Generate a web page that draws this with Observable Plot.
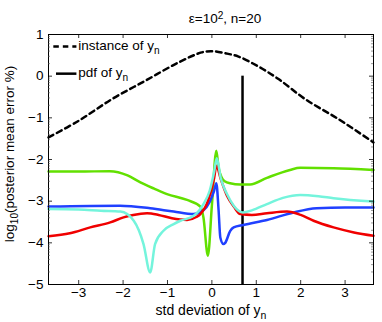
<!DOCTYPE html>
<html>
<head>
<meta charset="utf-8">
<script src="https://cdn.jsdelivr.net/npm/d3@7"></script>
<script src="https://cdn.jsdelivr.net/npm/@observablehq/plot@0.6"></script>
<style>
html, body { margin: 0; padding: 0; background: #fff; }
</style>
</head>
<body>
<div id="chart"></div>
<script>
// ---- data ----
const titleText = "ε=10^{2}, n=20";
const xLabelText = "std deviation of y_{n}";
const yLabelText = "log_{10}(posterior mean error %)";
const legendLabels = ["instance of y_{n}", "pdf of y_{n}"];
const xTicks = [-3, -2, -1, 0, 1, 2, 3];
const yTicks = [-5, -4, -3, -2, -1, 0, 1];

const instanceX = [-3.68, -3.0, -2.25, -1.5, -0.75, -0.23, 0.0, 0.3, 0.6, 1.05, 1.5, 2.1, 2.85, 3.64];
const instanceY = [-1.47, -1.07, -0.55, -0.11, 0.33, 0.57, 0.6, 0.55, 0.47, 0.23, -0.07, -0.55, -1.03, -1.59];

const pdfX = 0.69;
const pdfTop = 0;

const greenX = [-3.68, -3.0, -2.3, -1.9, -1.61, -1.3, -1.01, -0.56, -0.26, -0.19, -0.09, 0.0, 0.1, 0.15, 0.22, 0.3, 0.41, 0.64, 0.86, 1.24, 1.76, 1.99, 2.74, 3.64];
const greenY = [-2.29, -2.29, -2.28, -2.38, -2.55, -2.7, -2.83, -2.97, -3.13, -3.39, -4.31, -3.1, -1.79, -2.19, -2.43, -2.53, -2.57, -2.6, -2.6, -2.44, -2.25, -2.2, -2.21, -2.25];

const blueX = [-3.68, -2.07, -1.39, -0.86, -0.41, -0.19, -0.05, 0.05, 0.1, 0.15, 0.19, 0.26, 0.3, 0.41, 0.49, 0.71, 1.24, 1.84, 2.36, 3.0, 3.64];
const blueY = [-3.13, -3.11, -3.17, -3.25, -3.31, -3.22, -3.02, -2.75, -2.57, -3.2, -3.87, -4.03, -4.0, -3.72, -3.63, -3.57, -3.45, -3.27, -3.17, -3.15, -3.15];

const redX = [-3.68, -3.2, -2.74, -2.29, -1.99, -1.77, -1.46, -1.2, -0.9, -0.56, -0.35, -0.26, -0.08, 0.05, 0.1, 0.2, 0.34, 0.5, 0.64, 0.9, 1.24, 1.69, 2.0, 2.29, 2.74, 3.2, 3.64];
const redY = [-3.84, -3.77, -3.63, -3.51, -3.39, -3.33, -3.29, -3.33, -3.41, -3.45, -3.38, -3.31, -2.97, -2.45, -2.15, -2.47, -2.87, -3.14, -3.31, -3.33, -3.29, -3.25, -3.33, -3.47, -3.63, -3.75, -3.83];

const cyanX = [-3.68, -3.0, -2.5, -2.06, -1.76, -1.54, -1.39, -1.28, -1.09, -0.86, -0.71, -0.41, -0.19, -0.05, 0.05, 0.11, 0.2, 0.34, 0.5, 0.7, 0.9, 1.24, 1.6, 1.99, 2.4, 2.74, 3.64];
const cyanY = [-3.19, -3.2, -3.23, -3.25, -3.47, -4.03, -4.71, -4.03, -3.71, -3.55, -3.47, -3.35, -3.07, -2.75, -2.3, -1.97, -2.45, -2.83, -3.12, -3.27, -3.22, -3.07, -2.92, -2.85, -2.88, -2.93, -3.01];

// ---- layout ----
const W = 382, H = 322;
const mT = 34, mB = 38, mL = 48, mR = 9;
const innerW = W - mL - mR, innerH = H - mT - mB;
const xDomain = [-3.68, 3.64], yDomain = [-5, 1];
const font = "'Liberation Sans', Arial, Helvetica, sans-serif";
const fs = 13.5;

const zip = (xs, ys) => xs.map((x, i) => ({x, y: ys[i]}));
const fmt = d => (d < 0 ? "\u2212" : "") + Math.abs(d);

// minor (log-style) ticks on the y axis
const yMinor = [];
for (let n = -4; n <= 1; n++) for (let k = 2; k <= 9; k++) yMinor.push(n - 1 + Math.log10(k));

// legend placement (data units, derived from domains)
const legX1 = xDomain[0] + 0.12, legX2 = xDomain[0] + 0.64, legTX = xDomain[0] + 0.67;
const legY = [0.71, 0.06];

const chart = Plot.plot({
  width: W, height: H,
  marginTop: mT, marginBottom: mB, marginLeft: mL, marginRight: mR,
  x: {domain: xDomain},
  y: {domain: yDomain},
  style: {fontFamily: font, fontSize: fs + "px", background: "white", color: "black"},
  marks: [
    // data
    Plot.line(zip(instanceX, instanceY), {x: "x", y: "y", stroke: "black", strokeWidth: 2.5, strokeDasharray: "5.5,4", curve: "catmull-rom"}),
    Plot.ruleX([pdfX], {y1: pdfTop, y2: yDomain[0], stroke: "black", strokeWidth: 2.5}),
    Plot.line(zip(greenX, greenY), {x: "x", y: "y", stroke: "#62e000", strokeWidth: 2.5, curve: "monotone-x"}),
    Plot.line(zip(blueX, blueY), {x: "x", y: "y", stroke: "#2040ff", strokeWidth: 2.5, curve: "monotone-x"}),
    Plot.line(zip(redX, redY), {x: "x", y: "y", stroke: "#f00000", strokeWidth: 2.5, curve: "monotone-x"}),
    Plot.line(zip(cyanX, cyanY), {x: "x", y: "y", stroke: "#74f4dc", strokeWidth: 2.5, curve: "monotone-x"}),
    // frame & inward ticks
    Plot.frame({stroke: "black", strokeWidth: 1}),
    Plot.ruleX(xTicks, {stroke: "black", strokeWidth: 0.8, insetTop: innerH - 4}),
    Plot.ruleX(xTicks, {stroke: "black", strokeWidth: 0.8, insetBottom: innerH - 4}),
    Plot.ruleY(yTicks, {stroke: "black", strokeWidth: 0.8, insetRight: innerW - 4}),
    Plot.ruleY(yTicks, {stroke: "black", strokeWidth: 0.8, insetLeft: innerW - 4}),
    Plot.ruleY(yMinor, {stroke: "#555", strokeWidth: 0.6, insetRight: innerW - 2}),
    Plot.ruleY(yMinor, {stroke: "#555", strokeWidth: 0.6, insetLeft: innerW - 2}),
    // tick labels
    Plot.axisX({ticks: xTicks, tickSize: 0, tickPadding: 3, tickFormat: fmt, label: null, fontSize: fs}),
    Plot.axisY({ticks: yTicks, tickSize: 0, tickPadding: 5, tickFormat: fmt, label: null, fontSize: fs}),
    // legend
    Plot.ruleY([legY[0]], {x1: legX1, x2: legX2, stroke: "black", strokeWidth: 2.5, strokeDasharray: "5.5,4"}),
    Plot.ruleY([legY[1]], {x1: legX1 + 0.06, x2: legX2, stroke: "black", strokeWidth: 2.5}),
    Plot.text([0, 1], {x: legTX, y: i => legY[i], text: i => legendLabels[i], textAnchor: "start", fontSize: fs, fill: "black", dy: -1}),
    // title & x label
    Plot.text([titleText], {frameAnchor: "top", dx: 14, dy: -16, text: d => d, fontSize: fs, fill: "black", lineAnchor: "middle"}),
    Plot.text([xLabelText], {frameAnchor: "bottom", dy: 26, text: d => d, fontSize: 14, fill: "black", lineAnchor: "middle"}),
    // y label (rotated below)
    Plot.text([yLabelText], {frameAnchor: "left", text: d => d, fontSize: fs, fill: "black", lineAnchor: "middle", className: "ylab"})
  ]
});

// sub/superscript rendering
d3.select(chart).selectAll("text").each(function() {
  const s = this.textContent;
  if (!/[_^]\{/.test(s)) return;
  const parts = s.split(/([_^]\{[^}]*\})/);
  const el = d3.select(this);
  this.textContent = "";
  for (const p of parts) {
    if (!p) continue;
    const m = p.match(/^([_^])\{(.*)\}$/);
    const t = el.append("tspan");
    if (m) {
      t.text(m[2]).attr("font-size", "75%").attr("baseline-shift", m[1] === "_" ? "-35%" : "45%");
    } else {
      t.text(p);
    }
  }
});

// rotate the y label around its own anchor
d3.select(chart).selectAll("g.ylab text").each(function() {
  const cx = mL - 34, cy = (mT + H - mB) / 2 - 5;
  d3.select(this.parentNode).attr("transform", null);
  d3.select(this).attr("x", null).attr("y", null)
    .attr("text-anchor", "middle")
    .attr("transform", `translate(${cx},${cy}) rotate(-90)`);
});

document.getElementById("chart").appendChild(chart);
</script>
</body>
</html>
